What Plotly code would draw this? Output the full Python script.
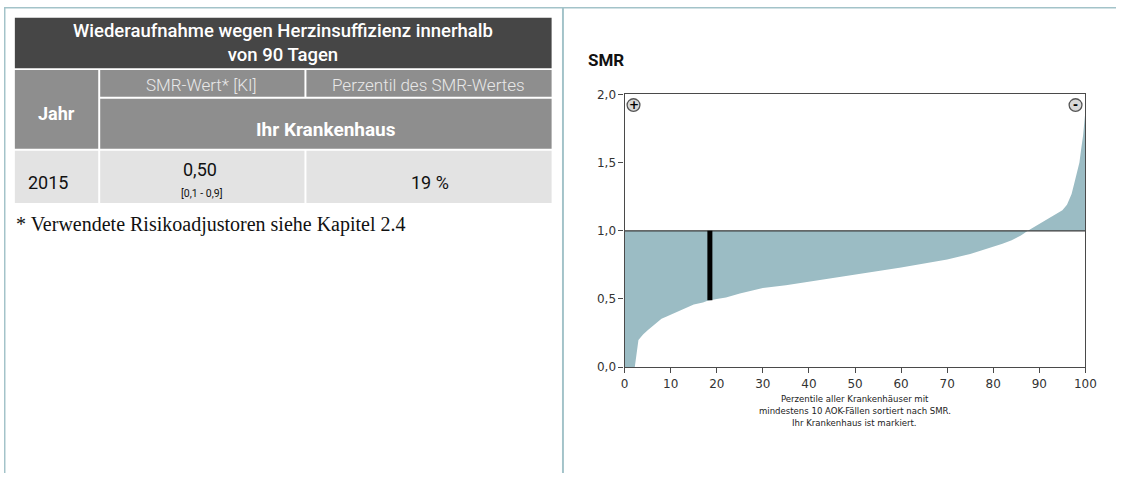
import plotly.graph_objects as go

# ---------------- data ----------------
PERCENTILES = [0, 2.2, 3, 4, 5, 6, 7, 8, 9, 10, 12, 14, 15, 17, 18, 20, 22, 25, 28, 30,
               35, 40, 45, 50, 55, 60, 65, 70, 75, 78, 80, 82, 84, 86, 87.5, 88, 90, 92,
               94, 95, 96, 97, 97.6, 98, 98.7, 99, 99.5, 100]
SMR_VALUES = [0.0, 0.0, 0.2, 0.24, 0.27, 0.30, 0.33, 0.355, 0.37, 0.385, 0.41, 0.44, 0.46,
              0.475, 0.487, 0.50, 0.51, 0.54, 0.565, 0.58, 0.60, 0.625, 0.65, 0.675, 0.70,
              0.73, 0.76, 0.79, 0.83, 0.86, 0.88, 0.905, 0.93, 0.965, 1.0, 1.01, 1.05,
              1.085, 1.13, 1.15, 1.19, 1.27, 1.35, 1.40, 1.50, 1.58, 1.70, 1.88]
REFERENCE_SMR = 1.0
HOSPITAL_PERCENTILE = 18.5
HOSPITAL_SMR = 0.50
X_TICKS = [0, 10, 20, 30, 40, 50, 60, 70, 80, 90, 100]
Y_TICKS = [0.0, 0.5, 1.0, 1.5, 2.0]

TABLE_TITLE = "Wiederaufnahme wegen Herzinsuffizienz innerhalb<br>von 90 Tagen"
COL_HEADERS = ["SMR-Wert* [KI]", "Perzentil des SMR-Wertes"]
YEAR = "2015"
SMR_TEXT = "0,50"
CI_TEXT = "[0,1 - 0,9]"
PERCENTILE_TEXT = "19 %"
FOOTNOTE = "* Verwendete Risikoadjustoren siehe Kapitel 2.4"
X_TITLE_LINES = ["Perzentile aller Krankenhäuser mit",
                 "mindestens 10 AOK-Fällen sortiert nach SMR.",
                 "Ihr Krankenhaus ist markiert."]

# ---------------- geometry helpers ----------------
W, H = 1127, 480
def px(x):
    return x / W
def py(y):
    return 1 - y / H

fig = go.Figure()

# invisible reference baseline used as the fill boundary
fig.add_trace(go.Scatter(x=PERCENTILES, y=[REFERENCE_SMR] * len(PERCENTILES),
                         mode="lines", line=dict(width=0, color="rgba(0,0,0,0)"),
                         hoverinfo="skip", showlegend=False))
# SMR distribution area between curve and reference
fig.add_trace(go.Scatter(x=PERCENTILES, y=SMR_VALUES, mode="lines",
                         line=dict(width=0, color="#9bbcc4"),
                         fill="tonexty", fillcolor="#9bbcc4", showlegend=False))
# reference line at SMR = 1
fig.add_trace(go.Scatter(x=[X_TICKS[0], X_TICKS[-1]], y=[REFERENCE_SMR, REFERENCE_SMR],
                         mode="lines", line=dict(width=1.3, color="#3a3a3a"),
                         showlegend=False))
# hospital marker
fig.add_trace(go.Scatter(x=[HOSPITAL_PERCENTILE, HOSPITAL_PERCENTILE],
                         y=[HOSPITAL_SMR - 0.01, REFERENCE_SMR], mode="lines",
                         line=dict(width=5, color="#000000"), showlegend=False))

shapes = []
annotations = []

# page borders (teal)
teal = "#a3c3c9"
shapes.append(dict(type="rect", xref="paper", yref="paper", x0=px(0), x1=px(W), y0=py(1.5), y1=py(0),
                   fillcolor=teal, line=dict(width=0), layer="below"))
shapes.append(dict(type="rect", xref="paper", yref="paper", x0=px(0), x1=px(1.5), y0=py(H), y1=py(0),
                   fillcolor=teal, line=dict(width=0), layer="below"))
shapes.append(dict(type="rect", xref="paper", yref="paper", x0=px(565.5), x1=px(567.5), y0=py(H), y1=py(0),
                   fillcolor=teal, line=dict(width=0), layer="below"))

def cell(x0, y0, x1, y1, color):
    shapes.append(dict(type="rect", xref="paper", yref="paper", x0=px(x0), x1=px(x1),
                       y0=py(y1), y1=py(y0), fillcolor=color, line=dict(width=0), layer="below"))

dark, mid, light = "#464646", "#8e8e8e", "#e3e3e3"
cell(11, 11, 555, 63, dark)
cell(11, 65, 95.5, 146, mid)
cell(97.5, 65, 304.5, 92.5, mid)
cell(306.5, 65, 555, 92.5, mid)
cell(97.5, 94.5, 555, 146, mid)
cell(11, 148, 95.5, 202, light)
cell(97.5, 148, 304.5, 202, light)
cell(306.5, 148, 555, 202, light)

def text(x, y, s, size, color="#000", family="Roboto", weight=None, xanchor="center"):
    f = dict(size=size, color=color, family=family)
    if weight:
        f["weight"] = weight
    annotations.append(dict(x=px(x), y=py(y), xref="paper", yref="paper", text=s,
                            showarrow=False, xanchor=xanchor, yanchor="middle", font=f))

text(283, 37, TABLE_TITLE, 18.5, "#ffffff", weight=500)
text(200, 80, COL_HEADERS[0], 17, "#e8e8e8", weight=300)
text(430.5, 80, COL_HEADERS[1], 17, "#e8e8e8", weight=300)
text(53, 110, "Jahr", 18, "#ffffff", weight=700)
text(326, 126, "Ihr Krankenhaus", 19, "#ffffff", weight=700)
text(45, 181, YEAR, 18, "#111111")
text(199, 167, SMR_TEXT, 18, "#111111")
text(200, 192, CI_TEXT, 10.5, "#111111")
text(432, 181, PERCENTILE_TEXT, 18, "#111111")
text(10, 224, FOOTNOTE, 20, "#111111", family="Liberation Serif", xanchor="left")

# chart title
text(590, 55, "<b>SMR</b>", 17, "#111111", family="Roboto", xanchor="left")

# x axis title lines
for i, line in enumerate(X_TITLE_LINES):
    text(862, 403 + i * 12.5, line, 9.5, "#222222", family="Liberation Sans Narrow, DejaVu Sans Condensed")

# +/- icons
for cx, sym in [(638, "+"), (1086, "-")]:
    shapes.append(dict(type="circle", xref="paper", yref="paper",
                       x0=px(cx - 6.5), x1=px(cx + 6.5), y0=py(101 + 6.5), y1=py(101 - 6.5),
                       fillcolor="#d8d8d8", line=dict(width=1.3, color="#555555"), layer="above"))
    annotations.append(dict(x=px(cx), y=py(100.5), xref="paper", yref="paper", text="<b>%s</b>" % sym,
                            showarrow=False, xanchor="center", yanchor="middle",
                            font=dict(size=12, color="#000000", family="DejaVu Sans")))

axis_common = dict(showline=True, linecolor="#4a4a4a", linewidth=1.3, mirror=True,
                   ticks="outside", ticklen=5, tickcolor="#4a4a4a", showgrid=False,
                   zeroline=False, tickfont=dict(family="DejaVu Sans", size=12, color="#333333"))

fig.update_layout(
    width=W, height=H, margin=dict(l=0, r=0, t=0, b=0),
    paper_bgcolor="#ffffff", plot_bgcolor="#ffffff",
    separators=",.",
    showlegend=False,
    xaxis=dict(domain=[px(629), px(1096)], range=[0, 100], tickvals=X_TICKS, **axis_common),
    yaxis=dict(domain=[py(371), py(90)], range=[0, 2], tickvals=Y_TICKS, tickformat=".1f",
               **axis_common),
    shapes=shapes, annotations=annotations,
)

fig.write_html("out.html", config={"displayModeBar": False},
               post_script="document.documentElement.style.margin='0';"
                           "document.body.style.margin='0';document.body.style.padding='0';"
                           "window.scrollTo(0,0);")
